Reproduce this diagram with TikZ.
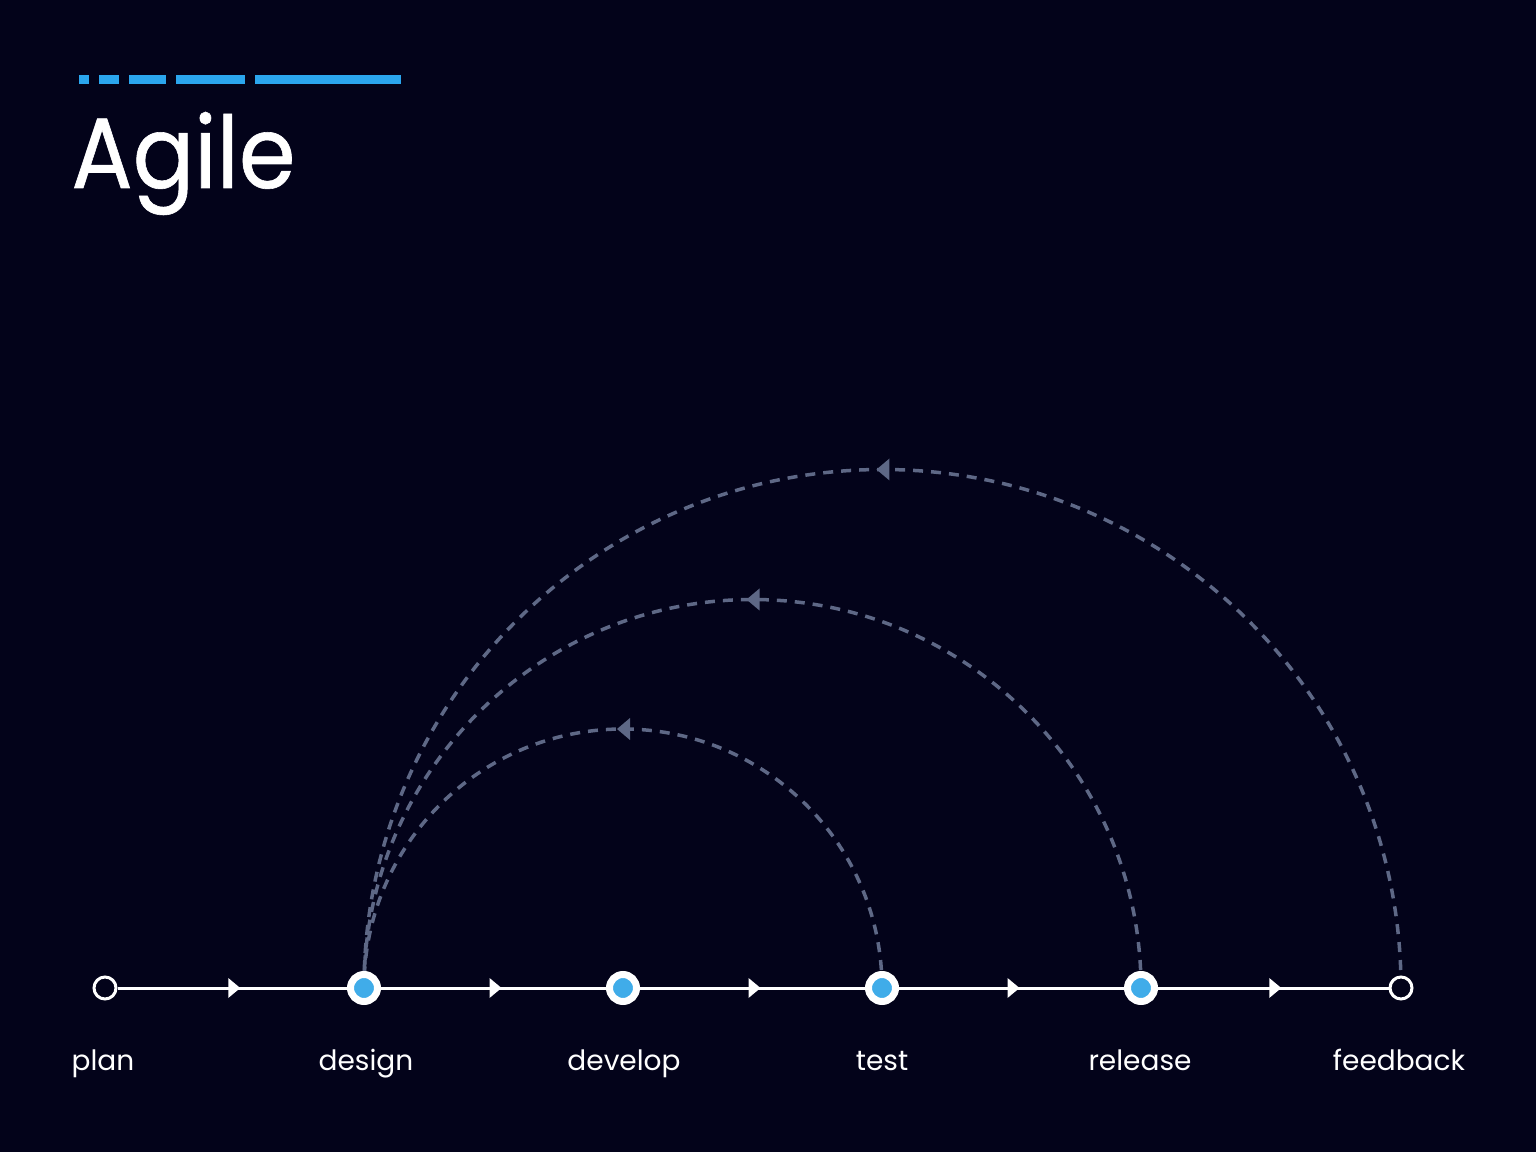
\documentclass[tikz,border=0pt]{standalone}
\usepackage{fontspec}
\setmainfont{Poppins}
\newfontfamily\titlefont[FakeStretch=0.91,FakeBold=0.6]{Poppins}
\usetikzlibrary{decorations.markings,backgrounds}
\definecolor{bgc}{HTML}{03031A}
\definecolor{bluec}{HTML}{40ACE9}
\definecolor{barc}{HTML}{2BA6EE}
\definecolor{arcc}{HTML}{5E6886}
\tikzset{
  endnode/.style={circle,draw=white,line width=1.5pt,fill=bgc,minimum size=11pt,inner sep=0pt},
  midnode/.style={circle,draw=white,line width=3.5pt,fill=bluec,minimum size=13.5pt,inner sep=0pt},
  flow/.style={white,line width=1.5pt,postaction={decorate},
    decoration={markings,mark=at position 0.5 with {\fill[white] (-2pt,5pt) -- (4pt,0pt) -- (-2pt,-5pt) -- cycle;}}},
  loopback/.style={arcc,line width=1.75pt,dash pattern=on 5pt off 4pt,postaction={decorate},
    decoration={markings,mark=at position 0.5 with {\fill[arcc] (-3.5pt,5.5pt) -- (3pt,0pt) -- (-3.5pt,-5.5pt) -- cycle;}}},
  lbl/.style={anchor=base,text=white,font=\fontsize{14pt}{16pt}\selectfont,inner sep=0pt},
  bar/.style={fill=barc},
}
\begin{document}
\begin{tikzpicture}[x=0.5pt,y=0.5pt]
\begin{pgfonlayer}{background}
\fill[bgc] (0,0) rectangle (1536,1152);
\end{pgfonlayer}
\useasboundingbox (0,0) rectangle (1536,1152);
% title bars
\fill[bar] (79,1068) rectangle (89,1077);
\fill[bar] (99,1068) rectangle (119,1077);
\fill[bar] (129,1068) rectangle (166,1077);
\fill[bar] (176,1068) rectangle (245,1077);
\fill[bar] (255,1068) rectangle (401,1077);
\node[anchor=base west,inner sep=0pt,text=white,font=\titlefont\fontsize{50pt}{56pt}\selectfont] (title) at (71,964) {Agile};
% nodes
\node[endnode] (plan) at (105,164) {};
\node[midnode] (design) at (364,164) {};
\node[midnode] (develop) at (623,164) {};
\node[midnode] (test) at (882,164) {};
\node[midnode] (release) at (1141,164) {};
\node[endnode] (feedback) at (1401,164) {};
% labels
\node[lbl] (lplan) at (103,82) {plan};
\node[lbl] (ldesign) at (366,82) {design};
\node[lbl] (ldevelop) at (624,82) {develop};
\node[lbl] (ltest) at (882,82) {test};
\node[lbl] (lrelease) at (1140,82) {release};
\node[lbl] (lfeedback) at (1399,82) {feedback};
% flow
\begin{pgfonlayer}{background}
\draw[flow] (plan) -- (design);
\draw[flow] (design) -- (develop);
\draw[flow] (develop) -- (test);
\draw[flow] (test) -- (release);
\draw[flow] (release) -- (feedback);
\draw[loopback] (test.center) arc[start angle=0,end angle=180,radius=129.5pt];
\draw[loopback] (release.center) arc[start angle=0,end angle=180,radius=194.25pt];
\draw[loopback] (feedback.center) arc[start angle=0,end angle=180,radius=259.25pt];
\end{pgfonlayer}
\end{tikzpicture}
\end{document}
